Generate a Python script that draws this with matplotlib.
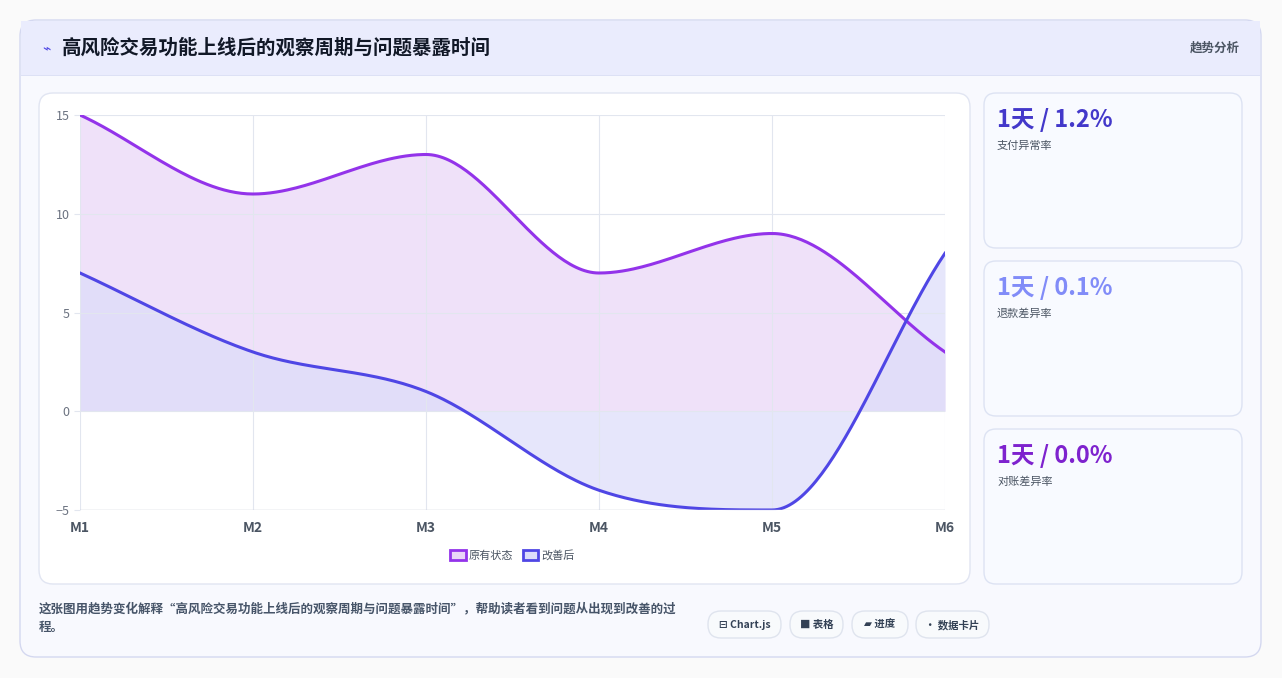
import numpy as np
import matplotlib
matplotlib.use("Agg")
import matplotlib.pyplot as plt
from matplotlib.patches import FancyBboxPatch, Rectangle, Patch

plt.rcParams['font.family'] = ['Noto Sans CJK SC', 'DejaVu Sans']

months = ["M1", "M2", "M3", "M4", "M5", "M6"]
original = [15, 11, 13, 7, 9, 3]
improved = [7, 3, 1, -4, -5, 8]
series_names = ["原有状态", "改善后"]
title = "高风险交易功能上线后的观察周期与问题暴露时间"
kpi_values = ["1天 / 1.2%", "1天 / 0.1%", "1天 / 0.0%"]
kpi_labels = ["支付异常率", "退款差异率", "对账差异率"]
kpi_colors = ["#4338ca", "#818cf8", "#7e22ce"]
chips = ["⊟ Chart.js", "■ 表格", "▰ 进度", "• 数据卡片"]
desc = "这张图用趋势变化解释“高风险交易功能上线后的观察周期与问题暴露时间”，帮助读者看到问题从出现到改善的过\n程。"

W, H = 1282, 678
fig = plt.figure(figsize=(W/100, H/100), dpi=100)
fig.patch.set_facecolor("#fafafa")

def box(x, y, w, h, fc, ec, r=12, z=0, lw=1):
    p = FancyBboxPatch((x/W, 1-(y+h)/H), w/W, h/H, boxstyle=f"round,pad=0,rounding_size={r/W}",
                       transform=fig.transFigure, fc=fc, ec=ec, lw=lw, zorder=z,
                       mutation_aspect=W/H)
    fig.add_artist(p)

def ftext(x, y, s, **kw):
    fig.text(x/W, 1-y/H, s, **kw)

box(20, 20, 1241, 637, "#f8f9fe", "#d4d8f0", r=16)
fig.add_artist(Rectangle((21/W, 1-75/H), 1239/W, 54/H, transform=fig.transFigure, fc="#eaecfd", ec="none", zorder=0.5))
fig.add_artist(Rectangle((21/W, 1-76/H), 1239/W, 1/H, transform=fig.transFigure, fc="#dde1f5", ec="none", zorder=0.6))
ftext(42, 48, "⌁", fontsize=10, color="#4f46e5", va="center")
ftext(62, 48, title, fontsize=14, fontweight="bold", color="#111827", va="center")
ftext(1240, 48, "趋势分析", fontsize=9, color="#4b5563", va="center", ha="right", fontweight="bold")

box(39, 93, 931, 491, "white", "#e1e5f2", r=14)
for i, (v, l, c) in enumerate(zip(kpi_values, kpi_labels, kpi_colors)):
    y0 = 93 + i*168
    box(984, y0, 258, 155, "#f8faff", "#dde3f3", r=12)
    ftext(997, y0+27, v, fontsize=17, fontweight="heavy", color=c, va="center")
    ftext(997, y0+53, l, fontsize=8, color="#4b5563", va="center")

ftext(39, 618, desc, fontsize=9, color="#475569", va="center", fontweight="bold", linespacing=1.6)
cx = [708, 790, 852, 916]
cw = [73, 53, 56, 73]
for x, w, s in zip(cx, cw, chips):
    box(x, 611, w, 27, "#f8fafc", "#dfe4ee", r=13)
    ftext(x+w/2, 625, s, fontsize=7.5, color="#334155", ha="center", va="center", fontweight="bold")

def pchip(x, y, n=60):
    x = np.asarray(x, float); y = np.asarray(y, float)
    h = np.diff(x); d = np.diff(y)/h
    m = np.zeros_like(y)
    m[0] = d[0]; m[-1] = d[-1]
    for k in range(1, len(y)-1):
        m[k] = 0 if d[k-1]*d[k] <= 0 else (d[k-1]+d[k])/2
    for k in range(len(d)):
        if d[k] == 0:
            m[k] = m[k+1] = 0
        else:
            a, b = m[k]/d[k], m[k+1]/d[k]
            s = a*a+b*b
            if s > 9:
                t = 3/np.sqrt(s)
                m[k] = t*a*d[k]; m[k+1] = t*b*d[k]
    xs, ys = [], []
    for k in range(len(d)):
        t = np.linspace(0, 1, n, endpoint=(k == len(d)-1))
        h00 = 2*t**3-3*t**2+1; h10 = t**3-2*t**2+t; h01 = -2*t**3+3*t**2; h11 = t**3-t**2
        xs.append(x[k]+t*h[k]); ys.append(h00*y[k]+h10*h[k]*m[k]+h01*y[k+1]+h11*h[k]*m[k+1])
    return np.concatenate(xs), np.concatenate(ys)

ax = fig.add_axes([80/W, (H-510)/H, 865/W, 395/H])
xi = np.arange(len(months))
for vals, lc, fc, name in [(original, "#9333ea", "#e9d5f7", series_names[0]),
                           (improved, "#4f46e5", "#dcdcfa", series_names[1])]:
    xs, ys = pchip(xi, vals)
    ax.fill_between(xs, ys, 0, color=fc, alpha=0.7, lw=0)
    ax.plot(xs, ys, color=lc, lw=2.2, label=name)
ax.set_xlim(0, 5); ax.set_ylim(-5, 15)
ax.set_xticks(xi, months)
ax.set_yticks([-5, 0, 5, 10, 15])
ax.grid(color="#e2e6ef", lw=0.8)
for s in ax.spines.values():
    s.set_visible(False)
ax.axhline(-5, color="#cbd0da", lw=1)
ax.tick_params(axis="x", length=0, labelsize=10, colors="#4b5563", pad=8)
ax.tick_params(axis="y", length=4, color="#e2e6ef", labelsize=9, colors="#6b7280")
for t in ax.get_xticklabels():
    t.set_fontweight("bold")
ax.set_facecolor("none")
h = [Patch(fc="#e9d5f7", ec="#9333ea", lw=2), Patch(fc="#dcdcfa", ec="#4f46e5", lw=2)]
ax.legend(h, series_names, loc="upper center", bbox_to_anchor=(0.5, -0.075), ncol=2, frameon=False,
          fontsize=8, handlelength=1.4, handleheight=1.1, columnspacing=0.8, handletextpad=0.3,
          labelcolor="#4b5563")
fig.savefig("out.png", dpi=100, facecolor=fig.get_facecolor())
